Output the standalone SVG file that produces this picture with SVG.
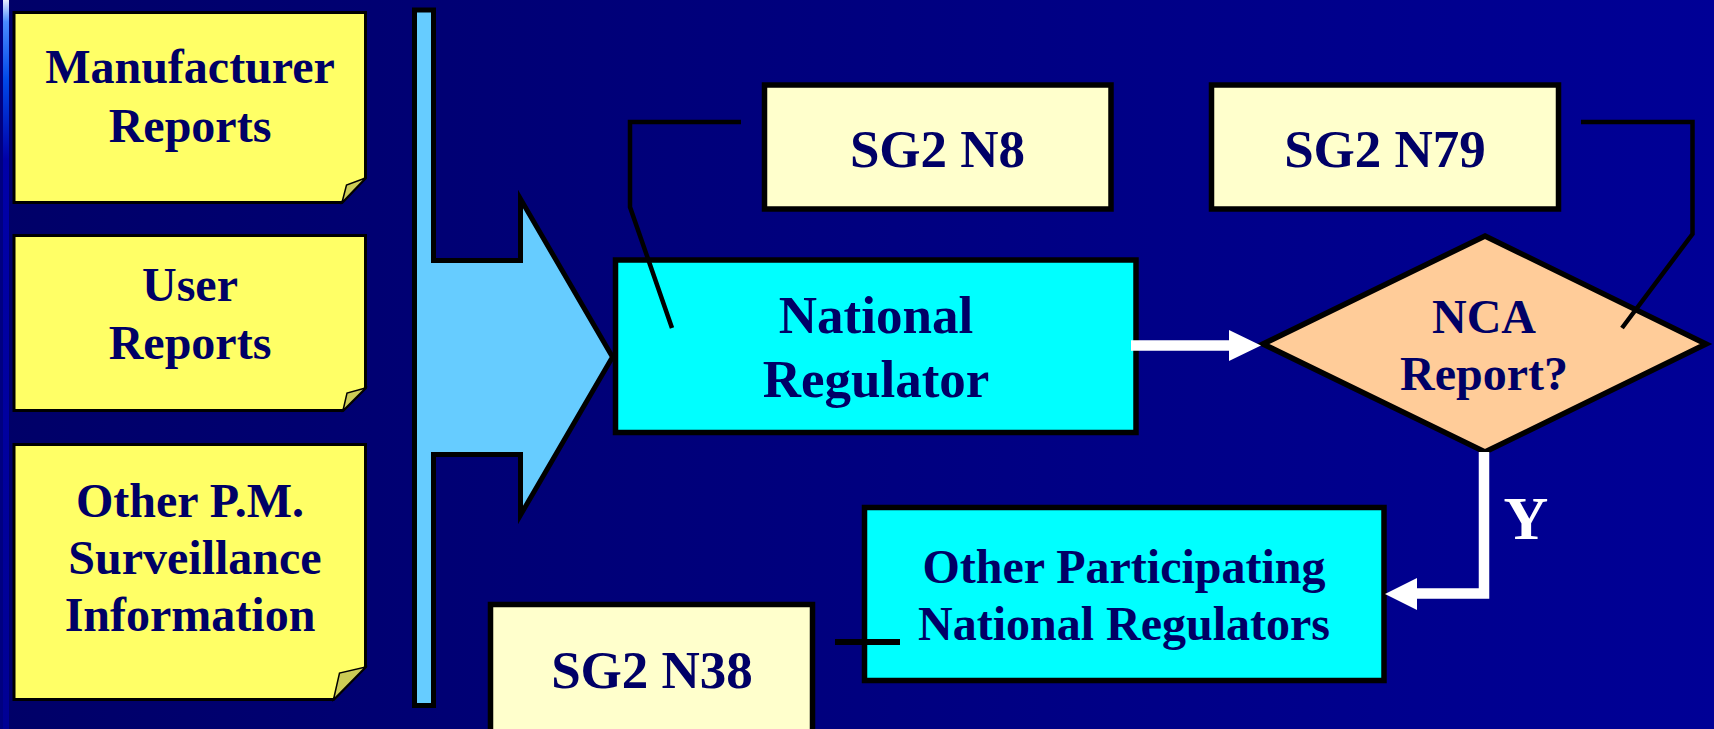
<svg xmlns="http://www.w3.org/2000/svg" width="1714" height="729" viewBox="0 0 1714 729">
<defs>
<linearGradient id="bg" x1="0" y1="0" x2="1" y2="0">
<stop offset="0" stop-color="#000068"/>
<stop offset="1" stop-color="#000096"/>
</linearGradient>
<linearGradient id="strip" x1="0" y1="0" x2="0" y2="1">
<stop offset="0" stop-color="#E8EEFF"/>
<stop offset="0.03" stop-color="#4A8CFF"/>
<stop offset="0.11" stop-color="#0048E8"/>
<stop offset="0.22" stop-color="#0000A8"/>
<stop offset="1" stop-color="#000094"/>
</linearGradient>
<style>
.note{fill:#FFFF66;stroke:#000;stroke-width:3;stroke-linejoin:miter}
.fold{fill:#CCCC55;stroke:#000;stroke-width:1.5}
.box{stroke:#000;stroke-width:5.5}
.cyan{fill:#00FFFF}
.ref{fill:#FFFFCC}
.t48{font-family:"Liberation Serif","Times New Roman",serif;font-weight:bold;font-size:48px;fill:#000066;text-anchor:middle}
.t53{font-family:"Liberation Serif","Times New Roman",serif;font-weight:bold;font-size:53px;fill:#000066;text-anchor:middle}
.blk{fill:none;stroke:#000;stroke-width:4.5;stroke-linejoin:miter}
.wht{fill:none;stroke:#FFF;stroke-width:10.5;stroke-linejoin:miter}
.head{fill:#FFF}
</style>
</defs>
<rect x="0" y="0" width="1714" height="729" fill="url(#bg)"/>
<rect x="0" y="0" width="9" height="729" fill="url(#strip)"/>
<rect x="0" y="0" width="3" height="729" fill="#000080"/>

<g id="manufacturer-reports">
<path class="note" d="M14,12.5 H365.5 V178 L342,202.5 H14 Z"/>
<path class="fold" d="M342,202.5 L346.5,185 L365.5,178 Z"/>
<text class="t48" x="190" y="83">Manufacturer</text>
<text class="t48" x="190" y="142">Reports</text>
</g>

<g id="user-reports">
<path class="note" d="M14,235.5 H365.5 V388 L343,410.5 H14 Z"/>
<path class="fold" d="M343,410.5 L347,393 L365.5,388 Z"/>
<text class="t48" x="190" y="301">User</text>
<text class="t48" x="190" y="359">Reports</text>
</g>

<g id="other-pm-info">
<path class="note" d="M14,444.5 H365.5 V667 L333.5,699.5 H14 Z"/>
<path class="fold" d="M333.5,699.5 L339.5,673 L365.5,667 Z"/>
<text class="t48" x="190" y="517">Other P.M.</text>
<text class="t48" x="195" y="574">Surveillance</text>
<text class="t48" x="190" y="631">Information</text>
</g>

<g id="collector-arrow">
<path d="M414.5,10 H433.5 V260.5 H520.5 V199 L612.5,357 L520.5,515 V454.5 H433.5 V705.5 H414.5 Z" fill="#66CCFF" stroke="#000" stroke-width="5" stroke-linejoin="miter"/>
</g>

<g id="national-regulator">
<rect class="box cyan" x="615.5" y="260" width="520.5" height="172.5"/>
<text class="t53" x="876" y="333">National</text>
<text class="t53" x="876" y="397">Regulator</text>
</g>

<g id="sg2-n8">
<rect class="box ref" x="764.5" y="85" width="346.5" height="124"/>
<text class="t53" x="937.5" y="167">SG2 N8</text>
</g>

<g id="sg2-n79">
<rect class="box ref" x="1211.5" y="85" width="347" height="124"/>
<text class="t53" x="1385" y="167">SG2 N79</text>
</g>

<g id="nca-report">
<polygon points="1485,236 1706,344 1485,452 1263,344" fill="#FFCC99" stroke="#000" stroke-width="5.5" stroke-linejoin="miter"/>
<text class="t48" x="1484" y="333">NCA</text>
<text class="t48" x="1484" y="390">Report?</text>
</g>

<g id="other-participating">
<rect class="box cyan" x="864.5" y="507.5" width="519.5" height="173"/>
<text class="t48" x="1124" y="583">Other Participating</text>
<text class="t48" x="1124" y="640">National Regulators</text>
</g>

<g id="sg2-n38">
<rect class="box ref" x="490.5" y="604.5" width="322" height="160"/>
<text class="t53" x="652" y="688">SG2 N38</text>
</g>

<g id="connectors">
<polyline class="blk" points="741,122 630,122 630,207 672,328"/>
<polyline class="blk" points="1581,122 1692.5,122 1692.5,234 1622,328"/>
<line x1="835" y1="642" x2="900" y2="642" stroke="#000" stroke-width="6"/>
<line class="wht" x1="1131" y1="345.5" x2="1230" y2="345.5"/>
<polygon class="head" points="1229,330 1261,345.5 1229,361"/>
<polyline class="wht" points="1484,452 1484,593.5 1416,593.5"/>
<polygon class="head" points="1417,578 1385,594 1417,610"/>
<text x="1526" y="539" font-family="Liberation Serif,'Times New Roman',serif" font-weight="bold" font-size="62" fill="#FFFFFF" text-anchor="middle">Y</text>
</g>
</svg>
